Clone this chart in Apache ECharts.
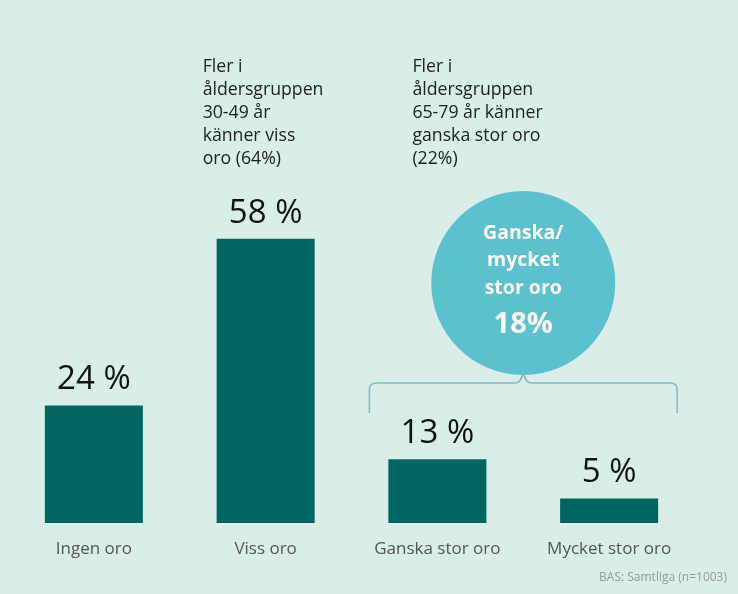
<!DOCTYPE html>
<html><head><meta charset="utf-8">
<script src="https://cdn.jsdelivr.net/npm/echarts@6/dist/echarts.min.js"></script>
<style>html,body{margin:0;padding:0;background:#d9ede9;}#c{width:738px;height:594px;}</style>
</head><body><div id="c"></div>
<script>
var categories = ['Ingen oro', 'Viss oro', 'Ganska stor oro', 'Mycket stor oro'];
var values = [24, 58, 13, 5];
var note1 = ['Fler i', 'åldersgruppen', '30-49 år', 'känner viss', 'oro (64%)'];
var note2 = ['Fler i', 'åldersgruppen', '65-79 år känner', 'ganska stor oro', '(22%)'];
var bubbleLines = ['Ganska/', 'mycket', 'stor oro'];
var bubbleValue = '18%';
var footer = 'BAS: Samtliga (n=1003)';

var FONT = '"Open Sans", "Noto Sans", sans-serif';
var chart = echarts.init(document.getElementById('c'));
chart.setOption({
  backgroundColor: '#d9ede9',
  animation: false,
  grid: {left: 8, right: 43, top: 33, bottom: 71},
  xAxis: {
    type: 'category', data: categories,
    axisLine: {show: false}, axisTick: {show: false},
    axisLabel: {fontSize: 17, color: '#555', fontFamily: FONT, margin: 18}
  },
  yAxis: {type: 'value', min: 0, max: 100, show: false, splitLine: {show: false}},
  series: [{
    type: 'bar', data: values, barWidth: 98,
    itemStyle: {color: '#00665f'},
    label: {show: true, position: 'top', distance: 9, formatter: '{c} %',
      fontSize: 33, color: '#111', fontFamily: FONT}
  }]
});

var p1 = chart.convertToPixel({seriesIndex: 0}, [1, 0]);
var p2 = chart.convertToPixel({seriesIndex: 0}, [2, 0]);
var p3 = chart.convertToPixel({seriesIndex: 0}, [3, 0]);
var mid = (p2[0] + p3[0]) / 2;
var L = p2[0] - 68, R = p3[0] + 68;
var by = 383, cy = 283, r = 92;
var BR = '#7dbcc3';

var g = [];
function noteText(lines, x) {
  g.push({type: 'text', x: x, y: 55, style: {text: lines.join('\n'), font: '17.7px ' + FONT,
    fill: '#222', lineHeight: 23, textVerticalAlign: 'top'}});
}
noteText(note1, p1[0] - 63);
noteText(note2, p2[0] - 25);

g.push({type: 'circle', shape: {cx: mid, cy: cy, r: r}, style: {fill: '#5cc1cc'}});
var ys = [233, 260, 288];
bubbleLines.forEach(function (t, i) {
  g.push({type: 'text', x: mid, y: ys[i], style: {text: t, font: 'bold 19.5px ' + FONT, fill: '#fff',
    textAlign: 'center', textVerticalAlign: 'middle'}});
});
g.push({type: 'text', x: mid, y: 325, style: {text: bubbleValue, font: 'bold 29px ' + FONT, fill: '#fff',
  textAlign: 'center', textVerticalAlign: 'middle'}});

function seg(x1, y1, x2, y2) {
  g.push({type: 'line', shape: {x1: x1, y1: y1, x2: x2, y2: y2}, style: {stroke: BR, lineWidth: 1.5}});
}
function curve(x1, y1, cx, cyy, x2, y2) {
  g.push({type: 'bezierCurve', shape: {x1: x1, y1: y1, cpx1: cx, cpy1: cyy, x2: x2, y2: y2},
    style: {stroke: BR, lineWidth: 1.5, fill: null}});
}
seg(L, 413, L, 390);
curve(L, 390, L, by, L + 7, by);
seg(L + 7, by, mid - 8, by);
curve(mid - 8, by, mid - 2, by, mid, by - 11);
curve(mid, by - 11, mid + 2, by, mid + 8, by);
seg(mid + 8, by, R - 7, by);
curve(R - 7, by, R, by, R, 390);
seg(R, 390, R, 413);

g.push({type: 'text', x: 727, y: 578, style: {text: footer, font: '12px ' + FONT, fill: '#999',
  textAlign: 'right', textVerticalAlign: 'middle'}});
chart.setOption({graphic: g});
</script></body></html>
